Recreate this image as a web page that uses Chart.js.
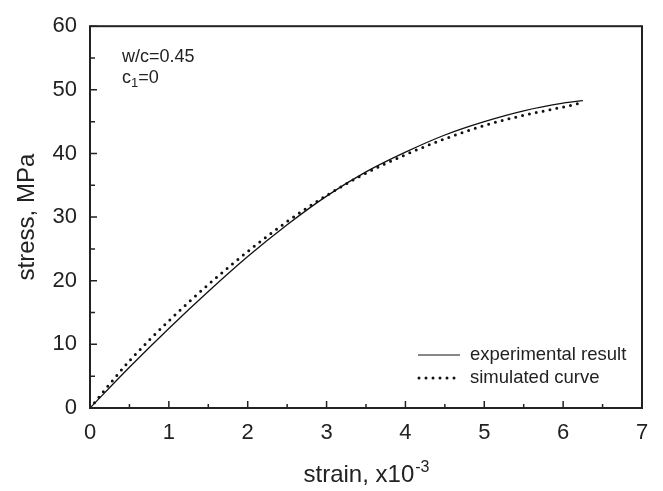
<!DOCTYPE html>
<html>
<head>
<meta charset="utf-8">
<script src="https://cdn.jsdelivr.net/npm/chart.js@4.4.1/dist/chart.umd.min.js"></script>
<style>
  html, body { margin: 0; padding: 0; background: #fff; }
  #wrap { width: 663px; height: 491px; }
</style>
</head>
<body>
<div id="wrap"><canvas id="chart" width="663" height="491"></canvas></div>
<script>
// strain (x10^-3) and stress (MPa)
var strain = [0, 0.5, 1, 1.5, 2, 2.5, 3, 3.5, 4, 4.5, 5, 5.5, 6, 6.25];
var experimental = [0, 6.4, 12.5, 18.3, 23.8, 28.8, 33.3, 37.1, 40.2, 42.9, 45.0, 46.7, 47.9, 48.3];
var simulated = [0, 7.4, 13.7, 19.4, 24.6, 29.3, 33.4, 36.9, 39.8, 42.3, 44.4, 46.0, 47.3, 48.0];
var seriesNames = ["experimental result", "simulated curve"];
var xRange = [0, 7];
var yRange = [0, 60];

var FONT = "'Liberation Sans', Arial, sans-serif";
var INK = "#222";

function toPoints(xs, ys) {
  return xs.map(function(x, i) { return { x: x, y: ys[i] }; });
}

// frame, inward ticks, axis titles, note and legend
var decorations = {
  id: "decorations",
  afterDraw: function(chart) {
    var ctx = chart.ctx;
    var a = chart.chartArea;
    var xs = chart.scales.x;
    var ys = chart.scales.y;
    ctx.save();

    ctx.strokeStyle = INK;
    ctx.lineWidth = 2;
    ctx.strokeRect(a.left, a.top, a.right - a.left, a.bottom - a.top);

    ctx.lineWidth = 1.5;
    ctx.beginPath();
    for (var v = xRange[0]; v <= xRange[1]; v += 0.5) {
      var px = xs.getPixelForValue(v);
      var len = (v % 1 === 0) ? 7 : 4;
      ctx.moveTo(px, a.bottom);
      ctx.lineTo(px, a.bottom - len);
    }
    for (var w = yRange[0]; w <= yRange[1]; w += 5) {
      var py = ys.getPixelForValue(w);
      var l2 = (w % 10 === 0) ? 7 : 5;
      ctx.moveTo(a.left, py);
      ctx.lineTo(a.left + l2, py);
    }
    ctx.stroke();

    ctx.fillStyle = INK;
    ctx.textBaseline = "alphabetic";

    // x title with superscript
    var main = "strain, x10";
    ctx.font = "16px " + FONT;
    var supW = ctx.measureText("-3").width;
    ctx.font = "24px " + FONT;
    var mainW = ctx.measureText(main).width;
    var cx = (a.left + a.right) / 2;
    var x0 = cx - (mainW + supW) / 2;
    ctx.textAlign = "left";
    ctx.fillText(main, x0, 482);
    ctx.font = "16px " + FONT;
    ctx.fillText("-3", x0 + mainW + 1, 472);

    // y title
    ctx.save();
    ctx.translate(34, (a.top + a.bottom) / 2);
    ctx.rotate(-Math.PI / 2);
    ctx.font = "24px " + FONT;
    ctx.textAlign = "center";
    ctx.fillText("stress, MPa", 0, 0);
    ctx.restore();

    // note
    ctx.font = "18px " + FONT;
    ctx.textAlign = "left";
    ctx.fillText("w/c=0.45", 122, 62);
    ctx.fillText("c", 122, 83);
    var cW = ctx.measureText("c").width;
    ctx.font = "13px " + FONT;
    ctx.fillText("1", 122 + cW, 87);
    var oneW = ctx.measureText("1").width;
    ctx.font = "18px " + FONT;
    ctx.fillText("=0", 122 + cW + oneW, 83);

    // legend
    ctx.strokeStyle = "#111";
    ctx.lineWidth = 1;
    ctx.beginPath();
    ctx.moveTo(418, 355);
    ctx.lineTo(460, 355);
    ctx.stroke();
    ctx.lineWidth = 3;
    ctx.lineCap = "round";
    ctx.setLineDash([0, 7]);
    ctx.beginPath();
    ctx.moveTo(419, 378);
    ctx.lineTo(461, 378);
    ctx.stroke();
    ctx.setLineDash([]);
    ctx.font = "18.5px " + FONT;
    ctx.textBaseline = "middle";
    ctx.fillText(seriesNames[0], 470, 355);
    ctx.fillText(seriesNames[1], 470, 378);

    ctx.restore();
  }
};

new Chart(document.getElementById("chart"), {
  type: "scatter",
  data: {
    datasets: [
      {
        label: seriesNames[0],
        data: toPoints(strain, experimental),
        showLine: true,
        borderColor: "#111",
        borderWidth: 1.3,
        pointRadius: 0,
        cubicInterpolationMode: "monotone"
      },
      {
        label: seriesNames[1],
        data: toPoints(strain, simulated),
        showLine: true,
        borderColor: "#111",
        borderWidth: 3,
        borderDash: [0, 7],
        borderCapStyle: "round",
        pointRadius: 0,
        cubicInterpolationMode: "monotone"
      }
    ]
  },
  options: {
    responsive: false,
    animation: false,
    layout: { padding: { top: 20, right: 21, left: 0, bottom: 0 } },
    plugins: {
      legend: { display: false },
      tooltip: { enabled: false }
    },
    scales: {
      x: {
        type: "linear",
        min: xRange[0],
        max: xRange[1],
        grid: { display: false, drawTicks: false },
        border: { display: false },
        ticks: { stepSize: 1, color: INK, padding: 12, font: { family: FONT, size: 22 } },
        afterFit: function(scale) { scale.height = 83; }
      },
      y: {
        min: yRange[0],
        max: yRange[1],
        grid: { display: false, drawTicks: false },
        border: { display: false },
        ticks: { stepSize: 10, color: INK, padding: 13, font: { family: FONT, size: 22 } },
        afterFit: function(scale) { scale.width = 90; }
      }
    }
  },
  plugins: [decorations]
});
</script>
</body>
</html>
